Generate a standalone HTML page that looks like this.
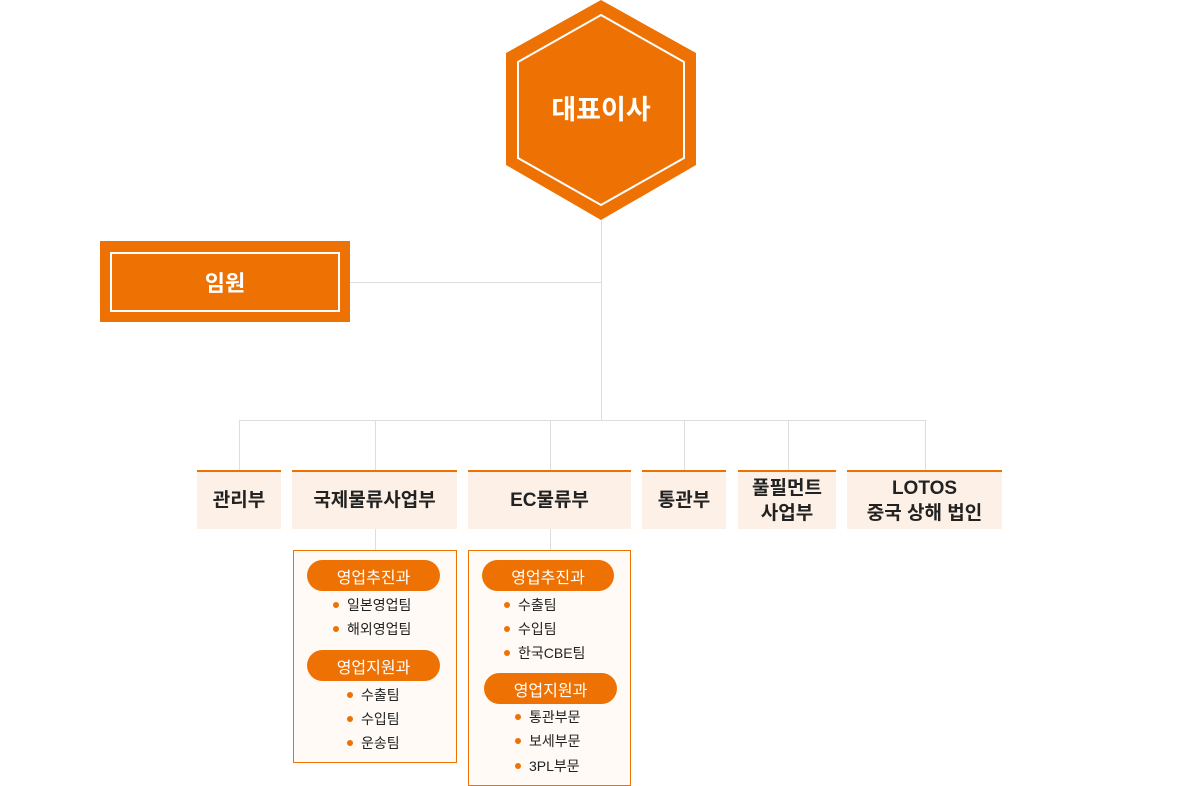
<!DOCTYPE html>
<html><head><meta charset="utf-8"><style>
*{margin:0;padding:0;box-sizing:border-box}
body{width:1200px;height:786px;background:#fff;position:relative;overflow:hidden;font-family:"Liberation Sans","Noto Sans CJK KR",sans-serif;color:#222}
.a{position:absolute}
.ln{position:absolute;background:#ddd}
.dept{position:absolute;top:470px;height:59px;background:#fdf0e6;border-top:2px solid #ee7203;display:flex;align-items:center;justify-content:center;text-align:center;font-size:19px;font-weight:bold;line-height:25px;color:#222}
.sub{position:absolute;top:550px;border:1px solid #ee7203;background:#fffaf6}
.pill{position:absolute;height:31px;border-radius:16px;background:#ee7203;color:#fff;font-size:16px;display:flex;align-items:center;justify-content:center}
.it{position:absolute;font-size:14px;line-height:16px;color:#222;white-space:nowrap}
.it:before{content:"";position:absolute;left:-14px;top:5px;width:6px;height:6px;border-radius:50%;background:#ee7203}
</style></head><body>
<svg class="a" style="left:0;top:0" width="1200" height="786">
<polygon points="601,0 696,53 696,165 601,220 506,165 506,53" fill="#ee7203"/>
<polygon points="601,15 684,62 684,158 601,205 518,158 518,62" fill="none" stroke="#fff" stroke-width="2"/>
<text x="601" y="119" text-anchor="middle" fill="#fff" font-size="27" font-weight="bold" font-family="Liberation Sans,Noto Sans CJK KR,sans-serif">대표이사</text>
</svg>
<div class="ln" style="left:601px;top:220px;width:1px;height:200px"></div>
<div class="ln" style="left:350px;top:282px;width:251px;height:1px"></div>
<div class="ln" style="left:239px;top:420px;width:687px;height:1px"></div>
<div class="ln" style="left:239px;top:420px;width:1px;height:50px"></div>
<div class="ln" style="left:375px;top:420px;width:1px;height:50px"></div>
<div class="ln" style="left:550px;top:420px;width:1px;height:50px"></div>
<div class="ln" style="left:684px;top:420px;width:1px;height:50px"></div>
<div class="ln" style="left:788px;top:420px;width:1px;height:50px"></div>
<div class="ln" style="left:925px;top:420px;width:1px;height:50px"></div>
<div class="ln" style="left:375px;top:529px;width:1px;height:21px"></div>
<div class="ln" style="left:550px;top:529px;width:1px;height:21px"></div>
<div class="a" style="left:100px;top:241px;width:250px;height:81px;background:#ee7203"></div>
<div class="a" style="left:110px;top:252px;width:230px;height:60px;border:2px solid #fff;color:#fff;font-size:22px;font-weight:bold;display:flex;align-items:center;justify-content:center">임원</div>
<div class="dept" style="left:197px;width:84px">관리부</div>
<div class="dept" style="left:292px;width:165px">국제물류사업부</div>
<div class="dept" style="left:468px;width:163px">EC물류부</div>
<div class="dept" style="left:642px;width:84px">통관부</div>
<div class="dept" style="left:738px;width:98px">풀필먼트<br>사업부</div>
<div class="dept" style="left:847px;width:155px">LOTOS<br>중국 상해 법인</div>
<div class="sub" style="left:293px;width:164px;height:213px"></div>
<div class="sub" style="left:468px;width:163px;height:236px"></div>
<div class="pill" style="left:307px;top:560px;width:133px">영업추진과</div>
<div class="pill" style="left:307px;top:650px;width:133px">영업지원과</div>
<div class="pill" style="left:482px;top:560px;width:132px">영업추진과</div>
<div class="pill" style="left:484px;top:673px;width:133px">영업지원과</div>
<div class="it" style="left:347px;top:597px">일본영업팀</div>
<div class="it" style="left:347px;top:621px">해외영업팀</div>
<div class="it" style="left:361px;top:687px">수출팀</div>
<div class="it" style="left:361px;top:711px">수입팀</div>
<div class="it" style="left:361px;top:735px">운송팀</div>
<div class="it" style="left:518px;top:597px">수출팀</div>
<div class="it" style="left:518px;top:621px">수입팀</div>
<div class="it" style="left:518px;top:645px">한국CBE팀</div>
<div class="it" style="left:529px;top:709px">통관부문</div>
<div class="it" style="left:529px;top:733px">보세부문</div>
<div class="it" style="left:529px;top:758px">3PL부문</div>
</body></html>
